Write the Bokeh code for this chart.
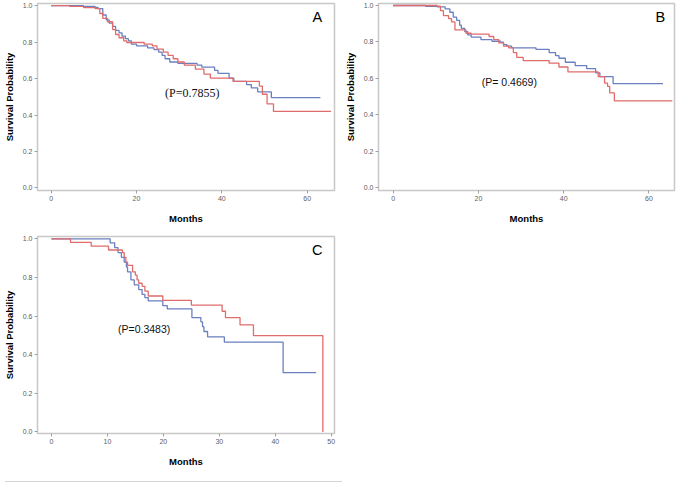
from bokeh.plotting import figure
from bokeh.layouts import column, row
from bokeh.models import Range1d, Label, FixedTicker, PrintfTickFormatter, Div
from bokeh.embed import file_html
from bokeh.resources import INLINE

# ---------------- data ----------------
# Panel A
a_blue_t = [0, 7.6, 10.3, 11.0, 12.1, 12.9, 13.6, 14.4, 15.1, 15.9, 16.6, 17.4, 18.1, 18.8, 20.0,
            22.6, 24.1, 25.2, 26.0, 26.7, 27.8, 29.7, 34.2, 35.3, 38.3, 39.1, 41.7, 42.8, 45.8,
            46.9, 48.4, 51.6, 63.1]
a_blue_s = [1.0, 0.996, 0.99, 0.984, 0.949, 0.922, 0.904, 0.887, 0.865, 0.851, 0.833, 0.819, 0.807,
            0.789, 0.78, 0.768, 0.759, 0.745, 0.727, 0.709, 0.691, 0.683, 0.674, 0.663, 0.645,
            0.629, 0.603, 0.585, 0.567, 0.549, 0.527, 0.496, 0.496]
a_red_t = [0, 4.3, 7.6, 10.3, 11.4, 12.1, 13.2, 14.4, 15.1, 15.9, 17.0, 17.7, 21.8, 23.7, 24.8,
           26.3, 27.4, 28.6, 29.7, 31.2, 33.8, 35.8, 37.3, 42.6, 48.8, 49.5, 50.6, 52.1, 65.6]
a_red_s = [1.0, 0.996, 0.989, 0.984, 0.957, 0.93, 0.912, 0.869, 0.842, 0.824, 0.807, 0.798, 0.789,
           0.78, 0.762, 0.745, 0.727, 0.709, 0.691, 0.674, 0.652, 0.625, 0.603, 0.585, 0.559,
           0.514, 0.461, 0.42, 0.42]

# Panel B
b_blue_t = [0, 7.6, 10.3, 12.2, 13.3, 14.1, 14.9, 15.6, 16.0, 16.8, 17.5, 18.3, 20.6, 23.2, 25.2,
            25.9, 26.7, 27.8, 33.5, 36.6, 38.1, 38.9, 40.4, 42.7, 45.4, 47.5, 48.5, 51.6, 63.3]
b_blue_s = [1.0, 0.996, 0.993, 0.981, 0.963, 0.936, 0.919, 0.892, 0.875, 0.857, 0.839, 0.827, 0.813,
            0.804, 0.799, 0.786, 0.777, 0.768, 0.76, 0.742, 0.725, 0.711, 0.689, 0.671, 0.654,
            0.631, 0.61, 0.572, 0.572]
b_red_t = [0, 10.3, 11.1, 11.8, 13.0, 13.7, 14.5, 17.1, 18.3, 22.5, 23.6, 24.8, 25.9, 27.1, 28.2,
           29.0, 30.5, 36.6, 38.9, 41.0, 48.1, 49.6, 50.3, 50.8, 51.9, 65.5]
b_red_s = [1.0, 0.996, 0.972, 0.945, 0.928, 0.91, 0.866, 0.848, 0.843, 0.83, 0.813, 0.795, 0.777,
           0.768, 0.742, 0.716, 0.698, 0.684, 0.663, 0.636, 0.61, 0.575, 0.557, 0.521, 0.477, 0.477]

# Panel C
c_blue_t = [0, 10.5, 11.3, 11.9, 12.5, 13.0, 13.4, 13.6, 14.2, 14.8, 15.6, 16.2, 16.7, 17.3, 19.9,
            20.7, 25.1, 26.7, 27.0, 27.25, 27.9, 30.9, 41.4, 47.3]
c_blue_s = [1.0, 0.979, 0.954, 0.929, 0.904, 0.879, 0.854, 0.829, 0.787, 0.762, 0.737, 0.712, 0.695,
            0.679, 0.654, 0.637, 0.592, 0.57, 0.545, 0.52, 0.492, 0.465, 0.307, 0.307]
c_red_t = [0, 3.4, 7.1, 10.2, 12.7, 13.0, 13.3, 13.6, 14.5, 15.0, 15.3, 15.6, 16.2, 16.7, 17.3,
           19.9, 25.0, 30.5, 31.1, 33.7, 36.1, 48.5]
c_red_s = [1.0, 0.982, 0.962, 0.942, 0.929, 0.904, 0.879, 0.862, 0.829, 0.812, 0.787, 0.77, 0.754,
           0.729, 0.704, 0.681, 0.657, 0.625, 0.592, 0.554, 0.499, 0.0]

y_ticks = [0.0, 0.2, 0.4, 0.6, 0.8, 1.0]
ab_x_ticks = [0, 20, 40, 60]
c_x_ticks = [0, 10, 20, 30, 40, 50]

BLUE = "#6a80c0"
RED = "#e06c6c"


def panel(width, height, bl, br, bt, bb, xr, yr, xticks, blue, red, letter, letter_xy,
          ptext, pxy, pfont, psize):
    p = figure(width=width, height=height, output_backend="svg", toolbar_location=None,
               x_range=Range1d(*xr), y_range=Range1d(*yr),
               min_border_left=bl, min_border_right=br, min_border_top=bt, min_border_bottom=bb)
    p.xgrid.visible = False
    p.ygrid.visible = False
    p.outline_line_color = "#c8c8c8"
    p.outline_line_width = 1.5
    p.background_fill_color = "white"
    p.border_fill_color = "white"
    p.xaxis.ticker = FixedTicker(ticks=xticks)
    p.yaxis.ticker = FixedTicker(ticks=y_ticks)
    p.yaxis.formatter = PrintfTickFormatter(format="%.1f")
    for ax in (p.xaxis, p.yaxis):
        ax.axis_line_color = None
        ax.major_tick_in = 0
        ax.major_tick_out = 3
        ax.minor_tick_line_color = None
        ax.major_tick_line_color = "#a0a0a0"
        ax.major_label_text_font = "Liberation Sans"
        ax.major_label_text_font_size = "7px"
        ax.major_label_text_color = "#606060"
        ax.major_label_standoff = 2
        ax.axis_label_text_font = "Liberation Sans"
        ax.axis_label_text_font_style = "bold"
        ax.axis_label_text_font_size = "9.5px"
        ax.axis_label_text_color = "black"
    p.xaxis.axis_label = "Months"
    p.yaxis.axis_label = "Survival Probability"
    p.xaxis.axis_label_standoff = 9
    p.yaxis.axis_label_standoff = 5

    p.step(blue[0], blue[1], mode="after", line_color=BLUE, line_width=1.3)
    p.step(red[0], red[1], mode="after", line_color=RED, line_width=1.3)

    p.add_layout(Label(x=letter_xy[0], y=letter_xy[1], text=letter, text_align="center",
                       text_baseline="middle", text_font="Liberation Sans",
                       text_font_size="14.5px", text_color="black"))
    p.add_layout(Label(x=pxy[0], y=pxy[1], text=ptext, text_align="left",
                       text_baseline="middle", text_font=pfont,
                       text_font_size=psize, text_color="#111111"))
    return p


pA = panel(337, 232, 31, 3, 3, 42, (-3.2, 66.4), (-0.014, 1.012), ab_x_ticks,
           (a_blue_t, a_blue_s), (a_red_t, a_red_s), "A", (62.4, 0.938),
           "(P=0.7855)", (26.7, 0.523), "Liberation Serif", "12px")
pB = panel(340, 232, 41, 3, 3, 42, (-3.43, 66.0), (-0.014, 1.011), ab_x_ticks,
           (b_blue_t, b_blue_s), (b_red_t, b_red_s), "B", (62.7, 0.936),
           "(P= 0.4669)", (20.8, 0.583), "Liberation Sans", "10.5px")
pC = panel(337, 244, 30, 3, 4, 43, (-2.49, 50.58), (-0.008, 1.012), c_x_ticks,
           (c_blue_t, c_blue_s), (c_red_t, c_red_s), "C", (47.5, 0.94),
           "(P=0.3483)", (11.9, 0.534), "Liberation Sans", "10.5px")

line = Div(text="", width=337, height=1, styles={"background-color": "#d4d4d4"})

layout = column(row(pA, pB), pC, line)

open("out.html", "w").write(file_html(layout, INLINE, "Survival"))
